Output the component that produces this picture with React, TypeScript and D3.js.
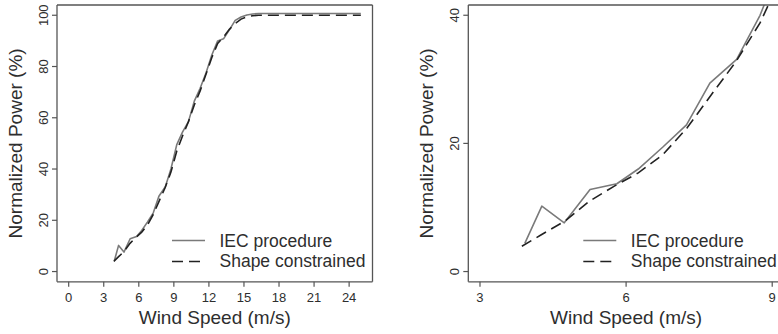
import React from "react";
import * as d3 from "d3";

const iecWind = [3.92, 4.27, 4.73, 5.26, 5.81, 6.25, 6.75, 7.24, 7.72, 8.27, 8.75, 9.25, 9.75, 10.25, 10.75, 11.25, 11.75, 12.25, 12.75, 13.25, 13.75, 14.25, 14.75, 15.25, 15.75, 16.25, 16.75, 17.75, 18.75, 19.75, 20.75, 21.75, 22.75, 23.75, 25];
const iecPower = [4.4, 10.2, 7.6, 12.8, 13.7, 16.0, 19.4, 22.9, 29.4, 33.1, 40.0, 49.5, 54.5, 58.5, 66.5, 71.5, 77.5, 84.5, 90.0, 90.8, 94.3, 98.0, 99.3, 100.1, 100.5, 100.7, 100.7, 100.7, 100.7, 100.7, 100.7, 100.7, 100.7, 100.7, 100.7];

const scWind = [3.86, 4.25, 4.75, 5.25, 5.75, 6.25, 6.75, 7.25, 7.75, 8.25, 8.75, 9.25, 9.75, 10.25, 10.75, 11.25, 11.75, 12.25, 12.75, 13.25, 13.75, 14.25, 14.75, 15.25, 15.75, 16.25, 25];
const scPower = [3.95, 5.7, 7.9, 11.0, 13.3, 15.4, 18.2, 22.4, 27.6, 32.7, 38.8, 47.0, 53.0, 58.5, 65.0, 70.5, 77.0, 83.5, 89.0, 91.5, 94.5, 96.8, 98.5, 99.4, 99.8, 100, 100];

const leftXTicks = [0, 3, 6, 9, 12, 15, 18, 21, 24];
const leftYTicks = [0, 20, 40, 60, 80, 100];
const rightXTicks = [3, 6, 9];
const rightYTicks = [0, 20, 40];
const legendLabels = ["IEC procedure", "Shape constrained"];

const iec = iecWind.map((w, i) => [w, iecPower[i]] as [number, number]);
const sc = scWind.map((w, i) => [w, scPower[i]] as [number, number]);

const FONT = "Liberation Sans, Arial, sans-serif";
const TEXT = "#2e2e2e";
const AXIS = "#555";

type PanelProps = {
  id: string;
  xDomain: [number, number];
  yDomain: [number, number];
  xRange: [number, number];
  yRange: [number, number];
  xTicks: number[];
  yTicks: number[];
  yTitleX: number;
  legendX: number;
  showRight: boolean;
  clipRight: number;
};

function Panel(p: PanelProps) {
  const x = d3.scaleLinear().domain(p.xDomain).range(p.xRange);
  const y = d3.scaleLinear().domain(p.yDomain).range(p.yRange);
  const line = d3.line<[number, number]>().x((d) => x(d[0])).y((d) => y(d[1]));
  const [x0, x1] = p.xRange;
  const [yb, yt] = p.yRange;
  const clipW = Math.min(x1, p.clipRight) - x0;
  const cx = (x0 + x1) / 2;
  const cy = (yb + yt) / 2;
  return (
    <g>
      <defs>
        <clipPath id={p.id}>
          <rect x={x0} y={yt} width={x1 - x0} height={yb - yt} />
        </clipPath>
      </defs>
      <g clipPath={`url(#${p.id})`}>
        <path d={line(iec) || ""} fill="none" stroke="#7a7a7a" strokeWidth={1.6} strokeLinejoin="round" />
        <path d={line(sc) || ""} fill="none" stroke="#222" strokeWidth={1.6} strokeDasharray="11,6" />
      </g>
      {/* box */}
      <line x1={x0} x2={x0} y1={yt} y2={yb} stroke={AXIS} strokeWidth={1.3} />
      <line x1={x0} x2={x0 + clipW} y1={yb} y2={yb} stroke={AXIS} strokeWidth={1.3} />
      <line x1={x0} x2={x0 + clipW} y1={yt} y2={yt} stroke={AXIS} strokeWidth={1.3} />
      {p.showRight && <line x1={x1} x2={x1} y1={yt} y2={yb} stroke={AXIS} strokeWidth={1.3} />}
      {/* x ticks */}
      {p.xTicks.map((t) => (
        <g key={"x" + t}>
          <line x1={x(t)} x2={x(t)} y1={yb} y2={yb + 5} stroke={AXIS} strokeWidth={1.2} />
          <text x={x(t)} y={yb + 20} textAnchor="middle" fontSize={13} fontFamily={FONT} fill={TEXT}>
            {t}
          </text>
        </g>
      ))}
      {/* y ticks */}
      {p.yTicks.map((t) => (
        <g key={"y" + t}>
          <line x1={x0 - 5} x2={x0} y1={y(t)} y2={y(t)} stroke={AXIS} strokeWidth={1.2} />
          <text
            transform={`translate(${x0 - 9.5},${y(t)}) rotate(-90)`}
            textAnchor="middle"
            fontSize={13}
            fontFamily={FONT}
            fill={TEXT}
          >
            {t}
          </text>
        </g>
      ))}
      <text x={cx} y={yb + 42.5} textAnchor="middle" fontSize={19} fontFamily={FONT} fill={TEXT}>
        Wind Speed (m/s)
      </text>
      <text
        transform={`translate(${p.yTitleX},${cy}) rotate(-90)`}
        textAnchor="middle"
        fontSize={19}
        fontFamily={FONT}
        fill={TEXT}
      >
        Normalized Power (%)
      </text>
      {/* legend */}
      <line x1={p.legendX} x2={p.legendX + 33} y1={240.5} y2={240.5} stroke="#7a7a7a" strokeWidth={1.6} />
      <line x1={p.legendX} x2={p.legendX + 33} y1={261.5} y2={261.5} stroke="#222" strokeWidth={1.6} strokeDasharray="11,6" />
      {legendLabels.map((l, i) => (
        <text key={l} x={p.legendX + 47.5} y={246.8 + i * 20.5} fontSize={17.5} fontFamily={FONT} fill={TEXT}>
          {l}
        </text>
      ))}
    </g>
  );
}

export default function App() {
  return (
    <svg width={778} height={334} style={{ position: "absolute", left: 0, top: 0, background: "#fff" }}>
      <rect width={778} height={334} fill="#fff" />
      <Panel
        id="clipL"
        xDomain={[-1, 26]}
        yDomain={[-4, 104]}
        xRange={[57, 372.5]}
        yRange={[281.8, 5]}
        xTicks={leftXTicks}
        yTicks={leftYTicks}
        yTitleX={21.5}
        legendX={172}
        showRight={true}
        clipRight={372.5}
      />
      <Panel
        id="clipR"
        xDomain={[2.76, 9.24]}
        yDomain={[-1.6, 41.6]}
        xRange={[468.3, 783.9]}
        yRange={[281.8, 5]}
        xTicks={rightXTicks}
        yTicks={rightYTicks}
        yTitleX={433}
        legendX={583.3}
        showRight={false}
        clipRight={778}
      />
    </svg>
  );
}
